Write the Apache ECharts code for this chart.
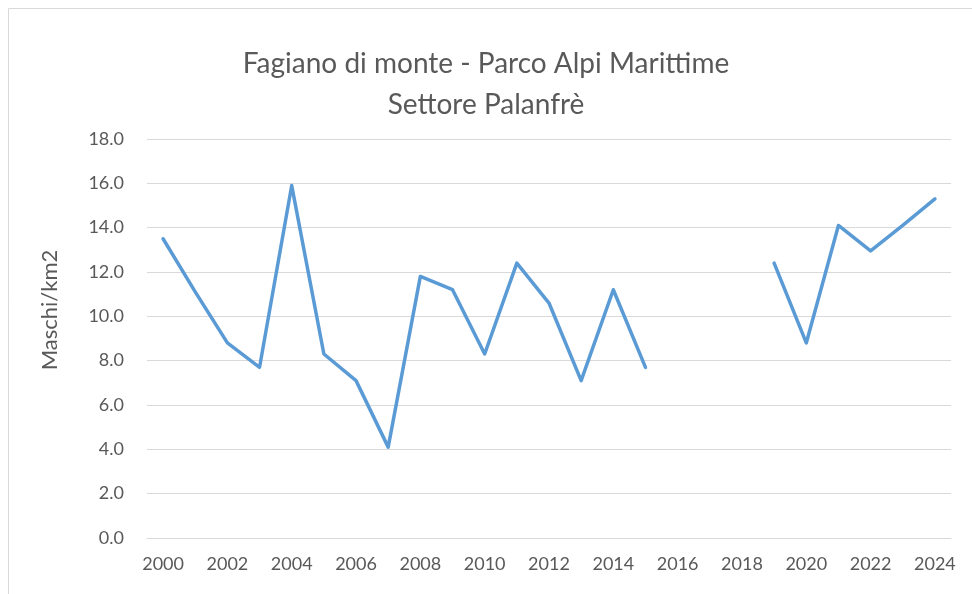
<!DOCTYPE html>
<html>
<head>
<meta charset="utf-8">
<script src="https://cdn.jsdelivr.net/npm/echarts@6/dist/echarts.min.js"></script>
<style>
body { margin: 0; background: #fff; }
</style>
</head>
<body>
<div id="ch" style="width: 972px; height: 594px;"></div>
<script>
var years = ['2000','2001','2002','2003','2004','2005','2006','2007','2008','2009','2010','2011','2012',
    '2013','2014','2015','2016','2017','2018','2019','2020','2021','2022','2023','2024']
var density = [13.5, 11.1, 8.8, 7.7, 15.9, 8.3, 7.1, 4.1, 11.8, 11.2, 8.3, 12.4, 10.6,
    7.1, 11.2, 7.7, null, null, null, 12.4, 8.8, 14.1, 12.95, 14.1, 15.3]

var txt = '#595959'
var fnt = 'Lato'
var chartInst = echarts.init(document.getElementById('ch'))
chartInst.setOption({
    animation: false,
    title: {
        text: 'Fagiano di monte - Parco Alpi Marittime\nSettore Palanfrè',
        left: 'center',
        top: 38,
        textStyle: { color: txt, fontFamily: fnt, fontSize: 28, fontWeight: 'normal', lineHeight: 41 }
    },
    graphic: [{
        type: 'rect',
        shape: { x: 8.5, y: 8.5, width: 1000, height: 1000 },
        style: { fill: 'none', stroke: '#d9d9d9', lineWidth: 1 },
        silent: true
    }, {
        // axis title, placed a bit above the grid centre as in the original
        type: 'text',
        x: 50,
        y: 310,
        rotation: Math.PI / 2,
        style: {
            text: 'Maschi/km2',
            fill: txt,
            font: '22px Lato',
            align: 'center',
            verticalAlign: 'middle'
        },
        silent: true
    }],
    grid: { left: 147, right: 21, top: 139, bottom: 56 },
    xAxis: {
        type: 'category',
        data: years,
        boundaryGap: true,
        axisLine: { lineStyle: { color: '#d9d9d9', width: 1 } },
        axisTick: { show: false },
        axisLabel: { interval: 1, color: txt, fontFamily: fnt, fontSize: 18, margin: 17 }
    },
    yAxis: {
        type: 'value',
        min: 0,
        max: 18,
        interval: 2,
        axisLine: { show: false },
        axisTick: { show: false },
        splitLine: { lineStyle: { color: '#d9d9d9', width: 1 } },
        axisLabel: {
            color: txt, fontFamily: fnt, fontSize: 18, margin: 23,
            formatter: function(v) { return v.toFixed(1) }
        }
    },
    series: [{
        type: 'line',
        data: density,
        showSymbol: false,
        connectNulls: false,
        lineStyle: { color: '#5b9bd5', width: 3.5, cap: 'round', join: 'round' }
    }]
})
</script>
</body>
</html>
